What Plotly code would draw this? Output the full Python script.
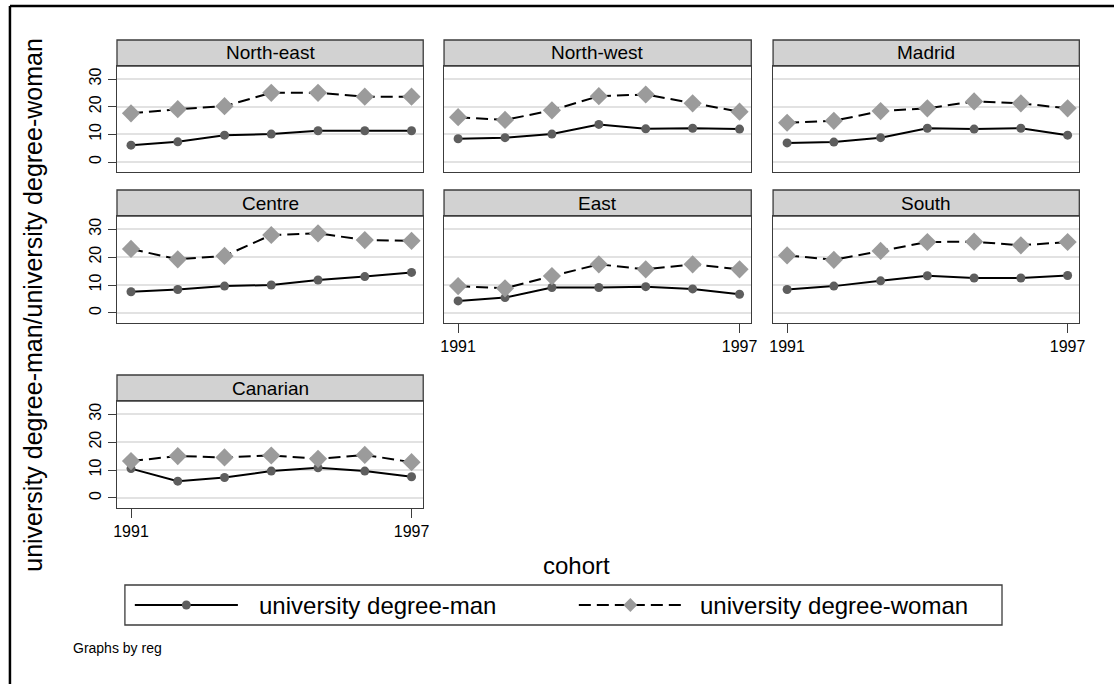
import plotly.graph_objects as go

W, H = 1120, 684

# ---------------- data ----------------
cohort = [1991, 1992, 1993, 1994, 1995, 1996, 1997]
regions = ["North-east", "North-west", "Madrid", "Centre", "East", "South", "Canarian"]

man_north_east = [6.1, 7.3, 9.7, 10.1, 11.3, 11.3, 11.3]
woman_north_east = [17.6, 19.1, 20.2, 25.0, 25.0, 23.6, 23.6]
man_north_west = [8.4, 8.8, 10.1, 13.6, 12.0, 12.2, 11.9]
woman_north_west = [16.2, 15.2, 18.7, 23.8, 24.4, 21.2, 18.2]
man_madrid = [6.9, 7.2, 8.8, 12.2, 11.9, 12.2, 9.7]
woman_madrid = [14.2, 14.9, 18.4, 19.4, 21.9, 21.2, 19.4]
man_centre = [7.6, 8.4, 9.6, 10.0, 11.8, 13.0, 14.5]
woman_centre = [22.9, 19.2, 20.4, 27.9, 28.5, 26.1, 25.8]
man_east = [4.3, 5.5, 9.1, 9.1, 9.4, 8.6, 6.7]
woman_east = [9.6, 8.8, 13.2, 17.4, 15.6, 17.4, 15.6]
man_south = [8.4, 9.6, 11.5, 13.3, 12.5, 12.5, 13.4]
woman_south = [20.6, 19.0, 22.2, 25.4, 25.5, 24.2, 25.4]
man_canarian = [10.5, 6.0, 7.3, 9.6, 10.8, 9.6, 7.6]
woman_canarian = [13.2, 15.0, 14.5, 15.2, 14.0, 15.4, 12.8]

man_values = [man_north_east, man_north_west, man_madrid, man_centre,
              man_east, man_south, man_canarian]
woman_values = [woman_north_east, woman_north_west, woman_madrid, woman_centre,
                woman_east, woman_south, woman_canarian]

y_ticks = [0, 10, 20, 30]
x_ticks = [1991, 1997]
x_tick_labels = ["1991", "1997"]
man_label = "university degree-man"
woman_label = "university degree-woman"
y_title = "university degree-man/university degree-woman"
x_title = "cohort"
note = "Graphs by reg"

# ---------------- layout geometry (pixels) ----------------
FONT = "Liberation Sans, Arial, sans-serif"
cols_px = [(114, 423), (444, 754), (776, 1085)]
rows_px = [(66, 172), (216, 323), (401, 508)]
strips_px = [(40, 66), (190, 216), (375, 401)]
positions = [(0, 0), (0, 1), (0, 2), (1, 0), (1, 1), (1, 2), (2, 0)]
bottom_panels = {4, 5, 6}
left_panels = {0, 3, 6}

def fx(px):
    return px / W

def fy(py):
    return 1 - py / H

MAN_MARK = "#5e5e5e"
WOMAN_MARK = "#9b9b9b"
AXIS_COL = "#3c3c3c"

fig = go.Figure()
shapes = []
annotations = []
layout_axes = {}

for i, name in enumerate(regions):
    r, c = positions[i]
    idx = "" if i == 0 else str(i + 1)
    xa, ya = "x" + idx, "y" + idx
    fig.add_trace(go.Scatter(
        x=cohort, y=man_values[i], xaxis=xa, yaxis=ya, mode="lines+markers",
        line=dict(color="black", width=2),
        marker=dict(symbol="circle", size=9, color=MAN_MARK),
        showlegend=False, name=man_label))
    fig.add_trace(go.Scatter(
        x=cohort, y=woman_values[i], xaxis=xa, yaxis=ya, mode="lines+markers",
        line=dict(color="black", width=2, dash="12px,6px"),
        marker=dict(symbol="diamond", size=14, color=WOMAN_MARK),
        showlegend=False, name=woman_label))

    x0, x1 = cols_px[c]
    y0, y1 = rows_px[r]
    show_x = i in bottom_panels
    show_y = i in left_panels
    layout_axes["xaxis" + idx] = dict(
        domain=[fx(x0), fx(x1)], anchor=ya, range=[1990.7, 1997.25],
        showgrid=False, zeroline=False, showline=True, mirror=True,
        linecolor=AXIS_COL, linewidth=1.3,
        tickvals=x_ticks if show_x else [], ticktext=x_tick_labels if show_x else [],
        ticks="outside" if show_x else "", ticklen=9, tickcolor=AXIS_COL, tickwidth=1.2,
        showticklabels=show_x, tickfont=dict(family=FONT, size=16, color="black"),
        fixedrange=True)
    layout_axes["yaxis" + idx] = dict(
        domain=[fy(y1), fy(y0)], anchor=xa, range=[-3.6, 34.7],
        tickvals=y_ticks, showgrid=True, gridcolor="#e2e2e2", gridwidth=2,
        zeroline=False, showline=True, mirror=True, linecolor=AXIS_COL, linewidth=1.3,
        ticks="outside" if show_y else "", ticklen=8, tickcolor=AXIS_COL, tickwidth=1.2,
        showticklabels=show_y, tickangle=-90,
        tickfont=dict(family=FONT, size=16, color="black"), fixedrange=True)

    # strip header
    s0, s1 = strips_px[r]
    shapes.append(dict(type="rect", xref="paper", yref="paper",
                       x0=fx(x0), x1=fx(x1), y0=fy(s1), y1=fy(s0),
                       fillcolor="#d2d2d2", line=dict(color=AXIS_COL, width=1.3),
                       layer="below"))
    annotations.append(dict(text=name, xref="paper", yref="paper",
                            x=fx((x0 + x1) / 2), y=fy((s0 + s1) / 2),
                            xanchor="center", yanchor="middle", showarrow=False,
                            font=dict(family=FONT, size=19, color="black")))

# outer frame (top and left edges visible)
shapes.append(dict(type="line", xref="paper", yref="paper", x0=fx(6), x1=1.0,
                   y0=fy(6), y1=fy(6), line=dict(color="black", width=2.5)))
shapes.append(dict(type="line", xref="paper", yref="paper", x0=fx(6), x1=fx(6),
                   y0=fy(6), y1=0.0, line=dict(color="black", width=2.5)))

# titles
annotations.append(dict(text=y_title, xref="paper", yref="paper", x=fx(29), y=fy(305),
                        xanchor="center", yanchor="middle", textangle=-90, showarrow=False,
                        font=dict(family=FONT, size=25, color="black")))
annotations.append(dict(text=x_title, xref="paper", yref="paper", x=fx(578), y=fy(565),
                        xanchor="center", yanchor="middle", showarrow=False,
                        font=dict(family=FONT, size=24, color="black")))
annotations.append(dict(text=note, xref="paper", yref="paper", x=fx(68), y=fy(648),
                        xanchor="left", yanchor="middle", showarrow=False,
                        font=dict(family=FONT, size=14, color="black")))

# legend box drawn by hand
LB = (122, 1007, 585, 625)
shapes.append(dict(type="rect", xref="paper", yref="paper",
                   x0=fx(LB[0]), x1=fx(LB[1]), y0=fy(LB[3]), y1=fy(LB[2]),
                   line=dict(color=AXIS_COL, width=1.3), fillcolor="white"))
ly = (LB[2] + LB[3]) / 2
# man key
shapes.append(dict(type="line", xref="paper", yref="paper", x0=fx(132), x1=fx(236),
                   y0=fy(ly), y1=fy(ly), line=dict(color="black", width=2)))
rad = 4.5
shapes.append(dict(type="circle", xref="paper", yref="paper",
                   x0=fx(184 - rad), x1=fx(184 + rad), y0=fy(ly + rad), y1=fy(ly - rad),
                   fillcolor=MAN_MARK, line=dict(width=0)))
annotations.append(dict(text=man_label, xref="paper", yref="paper", x=fx(255), y=fy(ly),
                        xanchor="left", yanchor="middle", showarrow=False,
                        font=dict(family=FONT, size=24, color="black")))
# woman key
shapes.append(dict(type="line", xref="paper", yref="paper", x0=fx(580), x1=fx(684),
                   y0=fy(ly), y1=fy(ly), line=dict(color="black", width=2, dash="12px,6px")))
d = 7
cx = 632
path = "M {},{} L {},{} L {},{} L {},{} Z".format(
    fx(cx - d), fy(ly), fx(cx), fy(ly - d), fx(cx + d), fy(ly), fx(cx), fy(ly + d))
shapes.append(dict(type="path", xref="paper", yref="paper", path=path,
                   fillcolor=WOMAN_MARK, line=dict(width=0)))
annotations.append(dict(text=woman_label, xref="paper", yref="paper", x=fx(700), y=fy(ly),
                        xanchor="left", yanchor="middle", showarrow=False,
                        font=dict(family=FONT, size=24, color="black")))

fig.update_layout(
    width=W, height=H, margin=dict(l=0, r=0, t=0, b=0),
    paper_bgcolor="white", plot_bgcolor="white",
    font=dict(family=FONT, color="black"),
    shapes=shapes, annotations=annotations, showlegend=False,
    **layout_axes)

fig.write_html(
    "out.html",
    config={"displayModeBar": False},
    post_script="document.body.style.margin='0';document.body.style.overflow='hidden';",
)
